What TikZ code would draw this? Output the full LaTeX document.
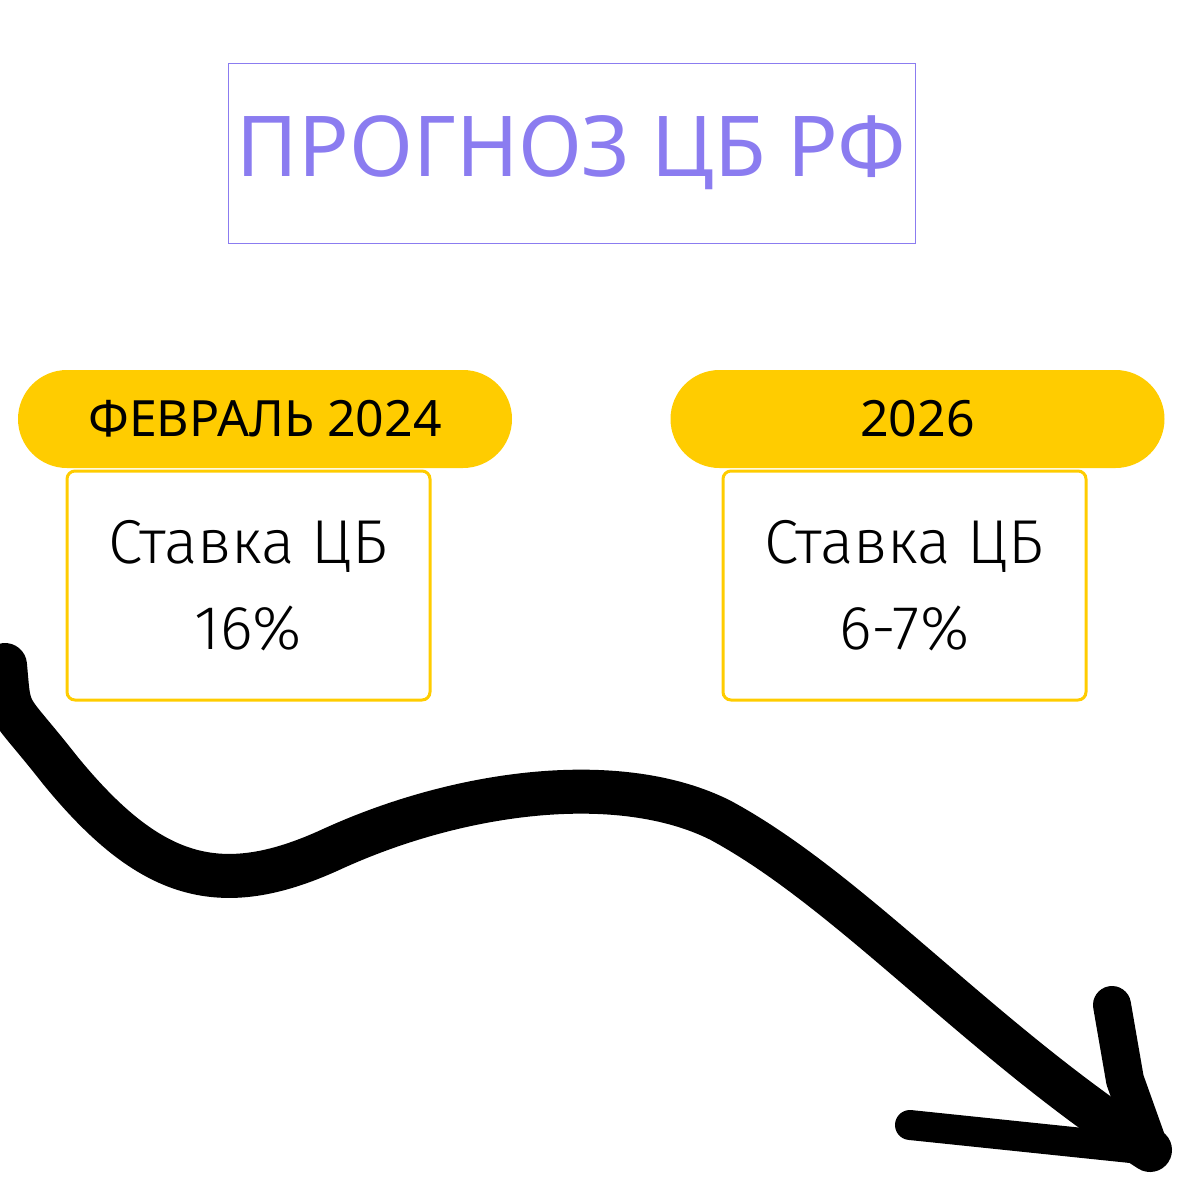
\documentclass[tikz,border=0pt]{standalone}
\usepackage{fontspec}
\setmainfont{Noto Sans}
\newfontfamily\lightf{Fira Sans}[UprightFont=* Light]
\definecolor{purp}{HTML}{8B7CF0}
\definecolor{yel}{HTML}{FFCC00}
\tikzset{pill/.style={fill=yel,rounded corners=49pt,minimum width=494pt,minimum height=98pt,font=\bfseries\fontsize{50}{50}\selectfont,inner sep=0},
 card/.style={draw=yel,line width=3pt,rounded corners=8pt,minimum width=363pt,minimum height=229pt,align=center,font=\lightf\fontsize{62}{86}\selectfont},
 brush/.style={line width=44pt,line cap=round,line join=round}}
\begin{document}
\begin{tikzpicture}[x=1pt,y=-1pt]
\useasboundingbox (0,0) rectangle (1200,1200);
\node[draw=purp,line width=1pt,minimum width=687pt,minimum height=180pt,text=purp,font=\bfseries\fontsize{84}{84}\selectfont] (title) at (571.5,153) {ПРОГНОЗ ЦБ РФ};
\node[pill] (p1) at (265,419) {ФЕВРАЛЬ 2024};
\node[pill] (p2) at (917.5,419) {2026};
\node[card] (c1) at (248.5,585.5) {Ставка ЦБ\\16\%};
\node[card] (c2) at (904.5,585.5) {Ставка ЦБ\\6-7\%};
\coordinate (a0) at (5,665);
\coordinate (tip) at (1150,1150);
\draw[brush] (a0) .. controls (10,720) and (5,700) .. (60,770)
  .. controls (150,880) and (220,900) .. (330,850)
  .. controls (460,790) and (620,770) .. (720,820)
  .. controls (850,890) and (980,1040) .. (tip);
\draw[brush,line width=38pt] (1112,1005) -- (1125,1080) -- (tip);
\draw[brush,line width=30pt] (910,1125) -- (tip);
\end{tikzpicture}
\end{document}
